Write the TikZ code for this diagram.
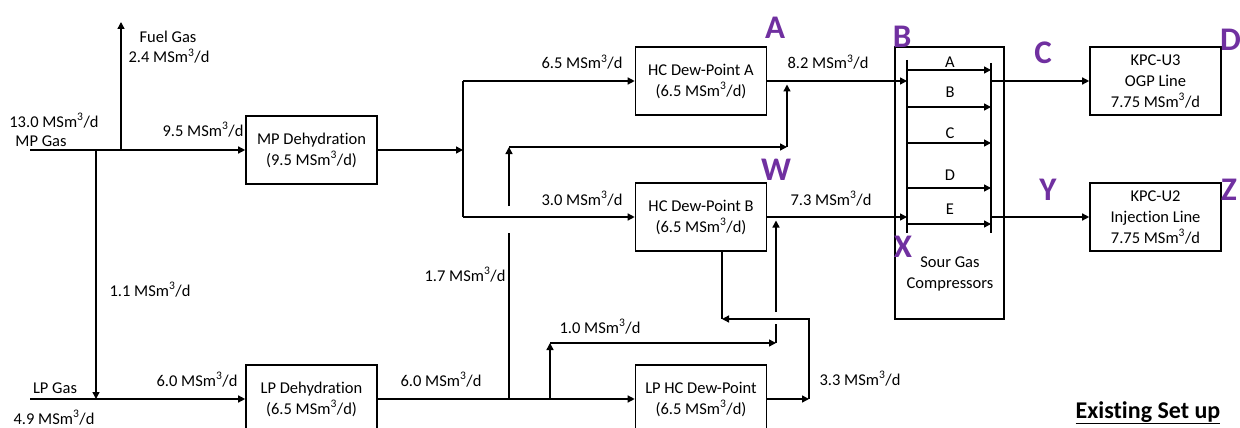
\documentclass[tikz,border=0pt]{standalone}
\usepackage{fontspec}
\setmainfont{Carlito}[Ligatures=NoCommon]
\usetikzlibrary{arrows.meta}
\newcommand\MSmd{MSm\textsuperscript{3}/d}
\definecolor{lettpurple}{HTML}{7030A0}
\begin{document}
\begin{tikzpicture}[x=1pt,y=-1pt,
 every node/.style={font=\fontsize{16.5}{21}\selectfont, inner sep=0pt},
 box/.style={draw,line width=1.6pt,minimum width=131pt,minimum height=68pt,align=center},
 pipe/.style={line width=1.4pt},
 flow/.style={pipe,-{Triangle[length=7pt,width=7pt]}},
 lbl/.style={anchor=base},
 tag/.style={text=lettpurple,font=\fontsize{33}{33}\selectfont\bfseries}]
\useasboundingbox (0,0) rectangle (1240,428);
\clip (0,0) rectangle (1240,428);

% boxes
\node[box] (mpdeh) at (311.5,150) {MP Dehydration\\(9.5 \MSmd)};
\node[box] (hca) at (701,81) {HC Dew-Point A\\(6.5 \MSmd)};
\node[box] (hcb) at (701,217) {HC Dew-Point B\\(6.5 \MSmd)};
\node[box] (lpdeh) at (311.5,399) {LP Dehydration\\(6.5 \MSmd)};
\node[box] (lphc) at (701,399) {LP HC Dew-Point\\(6.5 \MSmd)};
\node[box] (kpc3) at (1155.5,81) {KPC-U3\\OGP Line\\7.75 \MSmd};
\node[box] (kpc2) at (1155.5,217) {KPC-U2\\Injection Line\\7.75 \MSmd};
\node[box,minimum width=109pt,minimum height=272pt] (sgc) at (949.5,183) {};
\node[align=center] (sgctext) at (950,274) {Sour Gas\\Compressors};

% inlets
\coordinate (mpin) at (30,150);
\coordinate (fuelj) at (121,150);
\coordinate (fuelend) at (121,22);
\coordinate (lpj) at (96,150);
\coordinate (lpin) at (30,399);
\coordinate (lpjoin) at (96,399);
\draw[flow] (mpin) -- (mpdeh.west);
\draw[flow] (fuelj) -- (fuelend);
\draw[flow] (lpj) -- (lpjoin);
\draw[flow] (lpin) -- (lpdeh.west);

% split to HC dew-points
\coordinate (split) at (463,150);
\draw[flow] (mpdeh.east) -- (split);
\draw[pipe] (split |- hca.west) -- (split |- hcb.west);
\draw[flow] (split |- hca.west) -- (hca.west);
\draw[flow] (split |- hcb.west) -- (hcb.west);

% compressor headers
\coordinate (hdrLtop) at (907,60);
\coordinate (hdrLbot) at (907,233);
\coordinate (hdrRtop) at (991,63);
\coordinate (hdrRbot) at (991,233);
\draw[pipe] (hdrLtop) -- (hdrLbot);
\draw[pipe] (hdrRtop) -- (hdrRbot);
\foreach \y/\b/\l in {70/67/A,107/97/B,143/138/C,188/180/D,224/214/E} {
  \coordinate (cin\l) at (907,\y);
  \coordinate (cout\l) at (991,\y);
  \draw[flow] (cin\l) -- (cout\l);
  \node[lbl] (clab\l) at (950,\b) {\l};
}

% HC outputs to compressors
\draw[flow] (hca.east) -- (hca.east -| hdrLtop);
\draw[flow] (hcb.east) -- (hcb.east -| hdrLtop);

% compressor outputs
\coordinate (out3) at (991,81);
\coordinate (out2) at (991,217);
\draw[flow] (out3) -- (kpc3.west);
\draw[flow] (out2) -- (kpc2.west);

% LP line
\draw[flow] (lpdeh.east) -- (lphc.west);

% 1.7 bypass
\coordinate (bypA) at (509,399);
\coordinate (bypAg1) at (509,233);
\coordinate (bypAg2) at (509,206);
\coordinate (bypAc) at (509,147);
\coordinate (bypAe) at (787,147);
\coordinate (bypAtop) at (787,84.5);
\draw[pipe] (bypA) -- (bypAg1);
\draw[flow] (bypAg2) -- (bypAc);
\draw[flow] (bypAc) -- (bypAe);
\draw[flow] (bypAe) -- (bypAtop);

% 1.0 bypass
\coordinate (bypB) at (550,399);
\coordinate (bypBc) at (550,343);
\coordinate (bypBe) at (776,343);
\coordinate (bypBg1) at (776,324);
\coordinate (bypBg2) at (776,312);
\coordinate (bypBtop) at (776,220.5);
\draw[flow] (bypB) -- (bypBc);
\draw[flow] (bypBc) -- (bypBe);
\draw[pipe] (bypBe) -- (bypBg1);
\draw[flow] (bypBg2) -- (bypBtop);

% HC B bottom / LP HC outlet loop
\coordinate (hcbdrop) at (722,319);
\coordinate (rise) at (809,399);
\coordinate (risetop) at (809,319);
\draw[pipe] (hcb.south -| hcbdrop) -- (hcbdrop);
\draw[flow] (lphc.east) -- (rise);
\draw[flow] (rise) -- (risetop) -- (hcbdrop);

% flow labels
\node[lbl] (l130) at (54,127) {13.0 \MSmd};
\node[lbl] (lmpg) at (41,146) {MP Gas};
\node[lbl] (lfuel) at (168,43) {Fuel Gas};
\node[lbl] (l24) at (169,63) {2.4 \MSmd};
\node[lbl] (l95) at (203,136) {9.5 \MSmd};
\node[lbl] (l11) at (150,296) {1.1 \MSmd};
\node[lbl] (llpg) at (55,393) {LP Gas};
\node[lbl] (l49) at (54,424) {4.9 \MSmd};
\node[lbl] (l60a) at (197,386) {6.0 \MSmd};
\node[lbl] (l60b) at (441,386) {6.0 \MSmd};
\node[lbl] (l17) at (465,281) {1.7 \MSmd};
\node[lbl] (l10) at (600,333) {1.0 \MSmd};
\node[lbl] (l65) at (582,69) {6.5 \MSmd};
\node[lbl] (l30) at (582,205) {3.0 \MSmd};
\node[lbl] (l82) at (828,69) {8.2 \MSmd};
\node[lbl] (l73) at (831,205) {7.3 \MSmd};
\node[lbl] (l33) at (860,385) {3.3 \MSmd};

% purple tags
\node[tag] (tA) at (775,28) {A};
\node[tag] (tW) at (776,170) {W};
\node[tag] (tB) at (902,37) {B};
\node[tag] (tX) at (903,247) {X};
\node[tag] (tC) at (1043,53) {C};
\node[tag] (tY) at (1048,190) {Y};
\node[tag] (tD) at (1230.5,40) {D};
\node[tag] (tZ) at (1229,190) {Z};

\node[anchor=base,font=\fontsize{24}{24}\selectfont\bfseries] (title) at (1148,418) {\underline{Existing Set up}};
\end{tikzpicture}
\end{document}
